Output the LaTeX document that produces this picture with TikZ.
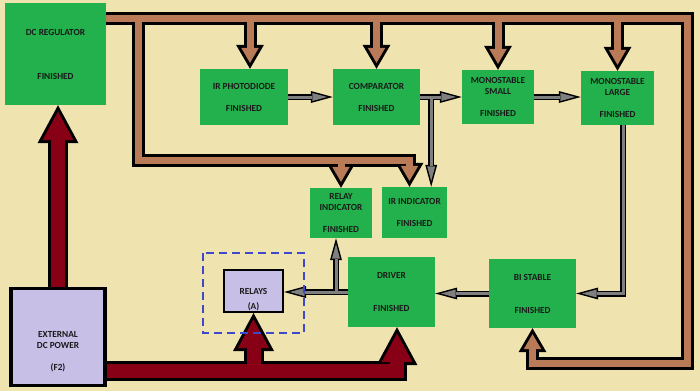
\documentclass[tikz,border=0pt]{standalone}
\usepackage{fontspec}
\setmainfont{Carlito}
\usepackage{tikz}
\usetikzlibrary{arrows.meta}

\definecolor{pyellow}{HTML}{EFE4B0}
\definecolor{pgreen}{HTML}{22B14C}
\definecolor{pbrown}{HTML}{B97A57}
\definecolor{pmaroon}{HTML}{880015}
\definecolor{plav}{HTML}{C8BFE7}
\definecolor{pgray}{HTML}{7F7F7F}
\definecolor{pindigo}{HTML}{3F48CC}
\definecolor{ink}{HTML}{1A1A1A}

\tikzset{
  unit/.style={fill=pgreen, text=ink, font=\fontsize{9.3}{11}\selectfont\bfseries, align=center, inner sep=0pt},
  supply/.style={unit, fill=plav, draw=black},
  buscase/.style={draw=black, line width=13pt, -{Triangle[length=24pt, width=28pt, line width=0pt]}},
  buscore/.style={draw=pbrown, line width=7pt, shorten >=5.9pt, -{Triangle[length=15.1pt, width=17.6pt, line width=0pt]}},
  sigcase/.style={draw=black, line width=6pt, -{Triangle[length=22pt, width=12pt, line width=0pt]}},
  sigcore/.style={draw=pgray, line width=3pt, shorten >=5.7pt, -{Triangle[length=14.8pt, width=8.1pt, line width=0pt]}},
  pwrcase/.style={draw=black, line width=20pt, -{Triangle[length=38pt, width=41pt, line width=0pt]}},
  pwrcore/.style={draw=pmaroon, line width=14pt, shorten >=6.3pt, -{Triangle[length=28.7pt, width=31pt, line width=0pt]}},
  groupline/.style={draw=pindigo, line width=2pt, dash pattern=on 8pt off 5pt}
}

% supply bus (brown), signal lines (gray), power lines (maroon)
\newcommand\busrun[1]{%
  \draw[#1] (dcreg.east |- 0,18) -- (687,18) -- (687,363) -| (bistable.south);
  \draw[#1] ([xshift=6pt]irpd.north |- 0,18) -- ([xshift=6pt]irpd.north);
  \draw[#1] (comp.north |- 0,18) -- (comp.north);
  \draw[#1] (monos.north |- 0,18) -- (monos.north);
  \draw[#1] (monol.north |- 0,18) -- (monol.north);
  \draw[#1] (138,18) |- ([xshift=-5pt]irind.north |- 0,160) -- ([xshift=-5pt]irind.north);
  \draw[#1] (relind.north |- 0,160) -- (relind.north);
}
\newcommand\sigrun[1]{%
  \draw[#1] (irpd.east) -- (comp.west);
  \draw[#1] (comp.east) -- (monos.west);
  \draw[#1] ([xshift=11pt]comp.east) -- ([xshift=11pt]comp.east |- irind.north);
  \draw[#1] (monos.east) -- (monos.east -| monol.west);
  \draw[#1] ([xshift=5.5pt]monol.south) |- (bistable.east);
  \draw[#1] (bistable.west) -- (bistable.west -| driver.east);
  \draw[#1] (driver.west) -- (driver.west -| relays.east);
  \draw[#1] ([xshift=-5pt]relind.south |- driver.west) -- ([xshift=-5pt]relind.south);
}
\newcommand\pwrrun[1]{%
  \draw[#1] (extpow.north) -- (extpow.north |- dcreg.south);
  \draw[#1] (extpow.east |- 0,371) -| ([xshift=5.5pt]driver.south);
  \draw[#1] (relays.south |- 0,371) -- (relays.south);
}

\begin{document}
\begin{tikzpicture}[x=1pt, y=-1pt]
\fill[pyellow] (0,0) rectangle (700,391);

% blocks
\node[unit, minimum width=101, minimum height=102] (dcreg) at (55.5,54) {DC REGULATOR\\[33pt]FINISHED};
\node[unit, minimum width=88, minimum height=56] (irpd) at (244,97) {IR PHOTODIODE\\[11pt]FINISHED};
\node[unit, minimum width=87, minimum height=56] (comp) at (376.5,97) {COMPARATOR\\[11pt]FINISHED};
\node[unit, minimum width=72, minimum height=54] (monos) at (498,97) {MONOSTABLE\\SMALL\\[11pt]FINISHED};
\node[unit, minimum width=73, minimum height=54] (monol) at (617.5,98) {MONOSTABLE\\LARGE\\[11pt]FINISHED};
\node[unit, minimum width=62, minimum height=50] (relind) at (341,213) {RELAY\\INDICATOR\\[11pt]FINISHED};
\node[unit, minimum width=65, minimum height=51] (irind) at (414.5,212.5) {IR INDICATOR\\[11pt]FINISHED};
\node[unit, minimum width=87, minimum height=70] (driver) at (391.5,292) {DRIVER\\[22pt]FINISHED};
\node[unit, minimum width=87, minimum height=69] (bistable) at (532.5,293.5) {BI STABLE\\[22pt]FINISHED};
\node[supply, line width=2pt, minimum width=59, minimum height=42] (relays) at (253.5,291) {\rule{0pt}{23.3pt}RELAYS\\[4pt](A)};
\node[supply, line width=3.5pt, minimum width=94, minimum height=97] (extpow) at (58,337) {\rule{0pt}{35pt}EXTERNAL\\DC POWER\\[11pt](F2)};

% connectors: black casing first, colour on top
\busrun{buscase}
\busrun{buscore}
\sigrun{sigcase}
\sigrun{sigcore}
\pwrrun{pwrcase}
\pwrrun{pwrcore}

\draw[groupline] (203,253) rectangle (304,333);
\end{tikzpicture}
\end{document}
